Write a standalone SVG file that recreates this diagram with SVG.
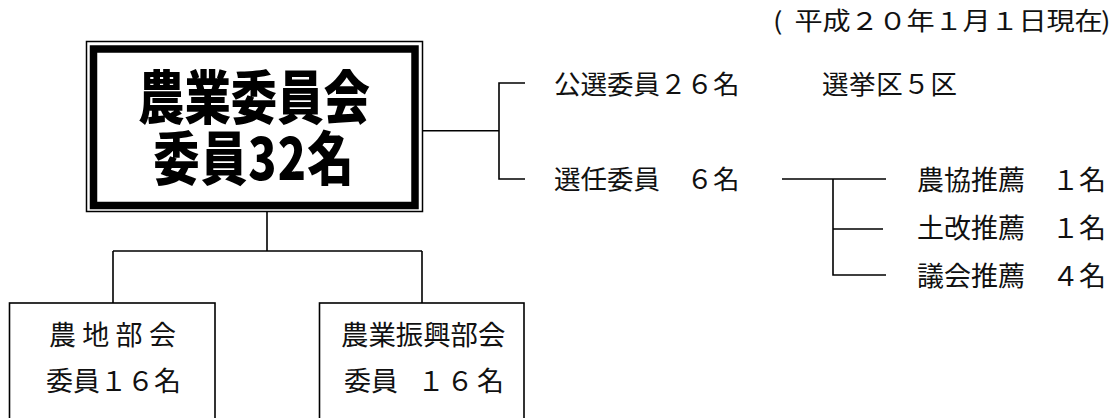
<svg xmlns="http://www.w3.org/2000/svg" width="1116" height="418" viewBox="0 0 1116 418">
<style>
.ln{fill:none;stroke:#000;stroke-width:1.6}
.t{font-family:"Noto Sans CJK JP","Noto Sans",sans-serif;fill:#111}
.big{font-family:"Noto Sans CJK JP",sans-serif;font-weight:900;font-size:58px;fill:#000}
</style>
<rect width="1116" height="418" fill="#fff"/>
<g id="date">
<text class="t" font-size="24.5" y="30.5" transform="scale(1.15,1)"><tspan x="672.2">(</tspan><tspan x="690.9" letter-spacing="-0.15">平成２０年１月１日現在</tspan><tspan x="957.4">)</tspan></text>
</g>
<g id="connectors">
<path class="ln" d="M267,212 V251 M113,251 H422 M113,251 V303 M422,251 V303"/>
<path class="ln" d="M423,130.7 H499 M525,83 H499 V179 H525"/>
<path class="ln" d="M782,179 H886 M833,179 V275 H886 M833,229 H883"/>
</g>
<g id="main">
<rect x="86.5" y="41.5" width="336" height="170" fill="#fff" stroke="#000" stroke-width="1.5"/>
<rect x="93.5" y="49" width="321.5" height="156.5" fill="none" stroke="#000" stroke-width="7.5"/>
<text class="big" text-anchor="middle" transform="scale(0.8,1)"><tspan x="317.5" y="119">農業委員会</tspan><tspan x="317.5" y="180" letter-spacing="1.5">委員32名</tspan></text>
</g>
<g id="koisen">
<text class="t" font-size="26.5" x="554" y="93.5">公選委員２６名</text>
<text class="t" font-size="26.5" letter-spacing="0.6" x="822" y="93.5">選挙区５区</text>
</g>
<g id="sennin">
<text class="t" font-size="26.5" x="554" y="188.5">選任委員　６名</text>
</g>
<g id="suisen">
<text class="t" font-size="27" x="917" y="189.5">農協推薦　１名</text>
<text class="t" font-size="27" x="917" y="237.5">土改推薦　１名</text>
<text class="t" font-size="27" x="917" y="285.5">議会推薦　４名</text>
</g>
<g id="nochi">
<rect class="ln" x="9.5" y="303" width="205.5" height="130" fill="#fff"/>
<text class="t" font-size="27" letter-spacing="6.3" x="49" y="344.5">農地部会</text>
<text class="t" font-size="27" x="46" y="391">委員１６名</text>
</g>
<g id="shinko">
<rect class="ln" x="319.5" y="303" width="204.5" height="130" fill="#fff"/>
<text class="t" font-size="27.4" x="341" y="345">農業振興部会</text>
<text class="t" font-size="27" y="391"><tspan x="344">委員</tspan><tspan x="417.5">１</tspan><tspan x="446.5">６</tspan><tspan x="477">名</tspan></text>
</g>
</svg>
